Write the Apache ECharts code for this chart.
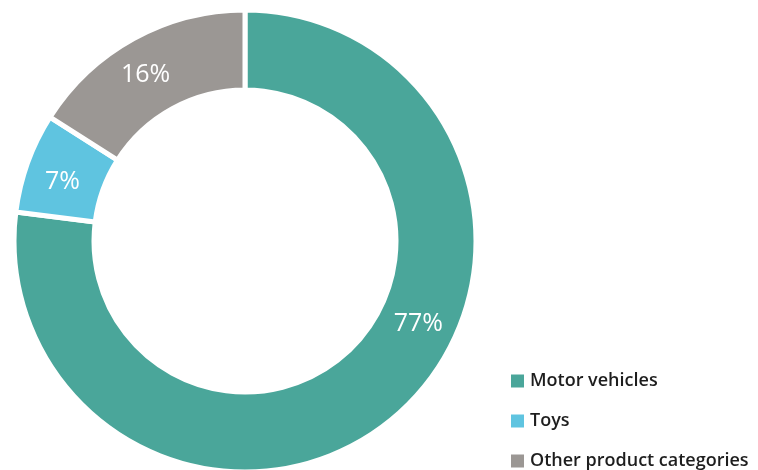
<!DOCTYPE html>
<html>
<head>
<meta charset="utf-8">
<style>
  html, body { margin: 0; padding: 0; background: #ffffff; }
  #chart { width: 758px; height: 470px; }
</style>
<script src="https://cdn.jsdelivr.net/npm/echarts@6/dist/echarts.min.js"></script>
</head>
<body>
<div id="chart"></div>
<script>
// Share of product categories
const categories = ['Motor vehicles', 'Toys', 'Other product categories'];
const shares = [77, 7, 16];
const colors = ['#4aa69a', '#5fc4e0', '#9b9794'];

// label nudges inside the ring, per slice; the large slice's label sits up on its right side
const labelShift = [[45, -63], [0, 7], [-6, 4]];

const chart = echarts.init(document.getElementById('chart'), null, { renderer: 'canvas' });

chart.setOption({
  animation: false,
  color: colors,
  legend: {
    orient: 'vertical',
    left: 509,
    top: 372,
    height: 110,
    padding: 0,
    itemWidth: 15,
    itemHeight: 15,
    itemGap: 22,
    icon: 'rect',
    selectedMode: false,
    data: categories,
    textStyle: {
      fontFamily: 'Open Sans',
      fontWeight: 600,
      fontSize: 18,
      color: '#1e1e1e'
    }
  },
  series: [{
    type: 'pie',
    center: [245, 241],
    radius: [151, 231],
    startAngle: 90,
    clockwise: true,
    avoidLabelOverlap: false,
    itemStyle: { borderColor: '#ffffff', borderWidth: 5 },
    label: {
      show: true,
      position: 'inside',
      formatter: '{c}%',
      color: '#ffffff',
      fontFamily: 'Open Sans',
      fontSize: 25,
      fontWeight: 400
    },
    labelLine: { show: false },
    labelLayout: function (params) {
      const s = labelShift[params.dataIndex] || [0, 0];
      return { dx: s[0], dy: s[1] };
    },
    emphasis: { disabled: true },
    data: categories.map((name, i) => ({ name: name, value: shares[i] }))
  }]
});
</script>
</body>
</html>
